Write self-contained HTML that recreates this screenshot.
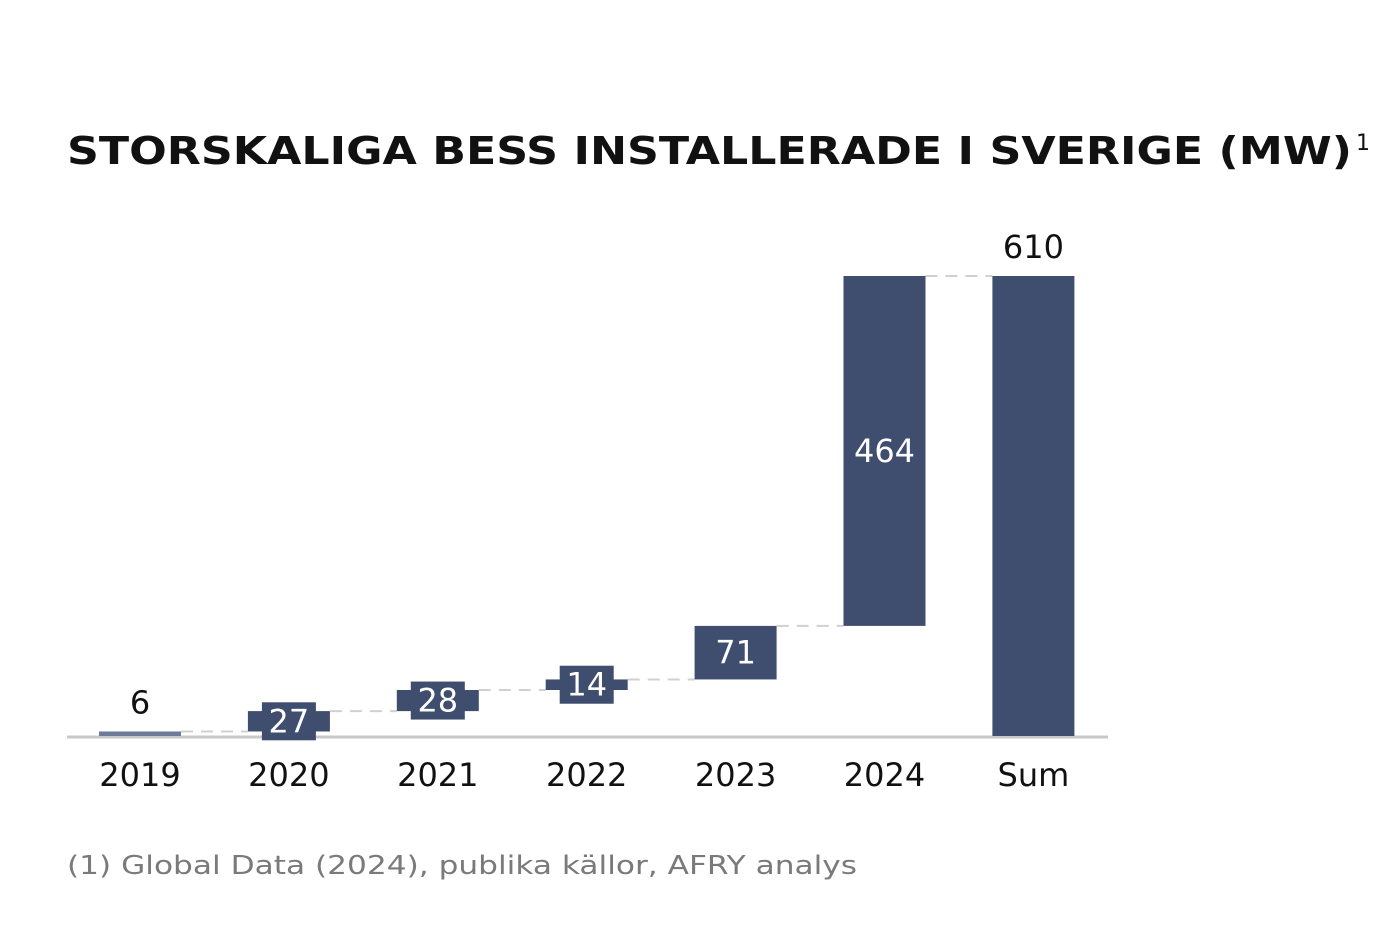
<!DOCTYPE html>
<html><head><meta charset="utf-8"><style>
html,body{margin:0;padding:0;background:#fff;}
svg{display:block;font-family:"DejaVu Sans","Liberation Sans",sans-serif;}
</style></head><body>
<svg id="chart" width="1400" height="932" viewBox="0 0 1400 932">
<text x="67" y="164" font-size="38" font-weight="bold" fill="#111" textLength="1285" lengthAdjust="spacingAndGlyphs">STORSKALIGA BESS INSTALLERADE I SVERIGE (MW)</text>
<text x="1356" y="150" font-size="22" fill="#111">1</text>
<line x1="67" y1="737" x2="1108" y2="737" stroke="#c8c8c8" stroke-width="3"/>
<g id="marks"></g>
<text x="67" y="874" font-size="26" fill="#7a7a7a" textLength="790" lengthAdjust="spacingAndGlyphs">(1) Global Data (2024), publika källor, AFRY analys</text>
</svg>
<script>
const categories = ["2019","2020","2021","2022","2023","2024","Sum"];
const increments = [6,27,28,14,71,464];
const labels = ["6","27","28","14","71","464","610"];
const NS="http://www.w3.org/2000/svg";
const baseY=736, topY=276, maxV=610;
function y(v){return baseY-(v/maxV)*(baseY-topY);}
function cx(i){return 140+i*148.9;}
const barW=82, col="#3f4d6e";
const g=document.getElementById("marks");
function mk(tag,attrs){const e=document.createElementNS(NS,tag);for(const k in attrs)e.setAttribute(k,attrs[k]);g.appendChild(e);return e;}
let cum=0;
const total=increments.reduce((a,b)=>a+b,0);
for(let i=0;i<categories.length;i++){
  let v0,v1;
  if(i<increments.length){v0=cum;v1=cum+increments[i];cum=v1;}else{v0=0;v1=total;}
  const yt=y(v1), yb=y(v0);
  const h=Math.max(yb-yt,2);
  const r=mk("rect",{x:cx(i)-barW/2,y:yt,width:barW,height:h,fill:i===0?"#6d7a98":col});
  
  
  // connector
  if(i<categories.length-1){
    const c=mk("line",{x1:cx(i)+barW/2,x2:cx(i+1)-barW/2,y1:yt,y2:yt,stroke:"#d0d0d0","stroke-width":2,"stroke-dasharray":"12,8"});
    
    
  }
  const mid=(yt+yb)/2;
  let tx, ty, fill;
  if(i===0||i===categories.length-1){tx=cx(i);ty=yt-18;fill="#111";}
  else if(h>=44){tx=cx(i);ty=mid+11;fill="#fff";}
  else{
    const lb=mk("rect",{x:cx(i)-27,y:mid-19,width:54,height:38,fill:col});
    
    
    tx=cx(i);ty=mid+11;fill="#fff";
  }
  const t=mk("text",{x:tx,y:ty,"text-anchor":"middle","font-size":32,fill:fill});
  t.textContent=labels[i];
  
  
  const xl=mk("text",{x:cx(i),y:786,"text-anchor":"middle","font-size":32,fill:"#111"});
  xl.textContent=categories[i];
  
  
}
</script>
</body></html>
